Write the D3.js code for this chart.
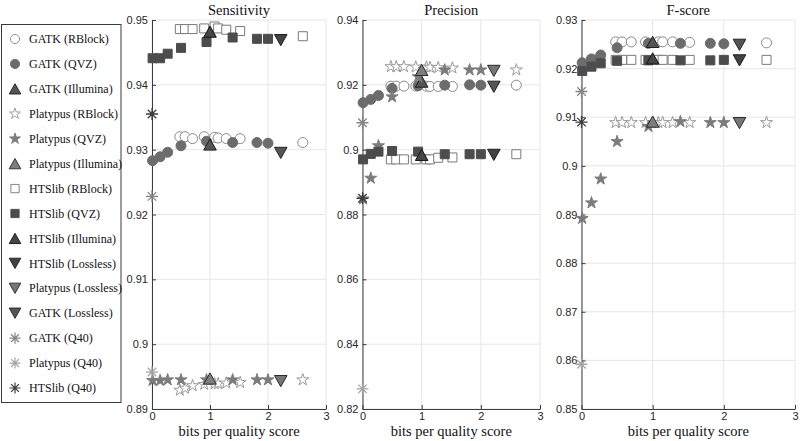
<!DOCTYPE html>
<html><head><meta charset="utf-8">
<script src="https://cdn.jsdelivr.net/npm/d3@7"></script>
<style>body{margin:0;background:#fff} svg{display:block}</style>
</head><body>
<svg id="c" width="800" height="441"></svg>
<script>
// ---------- DATA ----------
const qvzX      = [0.01, 0.14, 0.27, 0.5, 0.94, 1.39, 1.81, 2.0];
const rblockX   = [0.48, 0.57, 0.7, 0.9, 1.08, 1.14, 1.28, 1.52, 2.6];
const illuminaX = [1.0];
const losslessX = [2.22];
const q40X      = [0];

const xTicks = [0, 1, 2, 3];
const panelTitles = ["Sensitivity", "Precision", "F-score"];
const sensTicks = [0.89, 0.9, 0.91, 0.92, 0.93, 0.94, 0.95];
const precTicks = [0.82, 0.84, 0.86, 0.88, 0.9, 0.92, 0.94];
const fTicks    = [0.85, 0.86, 0.87, 0.88, 0.89, 0.9, 0.91, 0.92, 0.93];

// Sensitivity
const sensGatkRBlock   = [0.9320, 0.9320, 0.9317, 0.9320, 0.9319, 0.9318, 0.9317, 0.9317, 0.9311];
const sensGatkQVZ      = [0.9283, 0.9289, 0.9296, 0.9306, 0.9313, 0.9311, 0.9311, 0.9310];
const sensGatkIllumina = [0.9308];
const sensPlatRBlock   = [0.8929, 0.8932, 0.8936, 0.8938, 0.8939, 0.8939, 0.8940, 0.8941, 0.8945];
const sensPlatQVZ      = [0.8944, 0.8944, 0.8945, 0.8945, 0.8945, 0.8945, 0.8945, 0.8945];
const sensPlatIllumina = [0.8947];
const sensHtsRBlock    = [0.9486, 0.9486, 0.9486, 0.9487, 0.9490, 0.9487, 0.9485, 0.9483, 0.9475];
const sensHtsQVZ       = [0.9441, 0.9441, 0.9448, 0.9457, 0.9466, 0.9473, 0.9471, 0.9471];
const sensHtsIllumina  = [0.9482];
const sensHtsLossless  = [0.9469];
const sensPlatLossless = [0.8943];
const sensGatkLossless = [0.9295];
const sensGatkQ40      = [0.9228];
const sensPlatQ40      = [0.8957];
const sensHtsQ40       = [0.9355];

// Precision
const precGatkRBlock   = [0.9196, 0.9196, 0.9196, 0.9196, 0.9196, 0.9195, 0.9195, 0.9195, 0.9199];
const precGatkQVZ      = [0.9145, 0.9155, 0.9167, 0.9189, 0.9197, 0.9199, 0.9200, 0.9199];
const precGatkIllumina = [0.9210];
const precPlatRBlock   = [0.9256, 0.9256, 0.9256, 0.9255, 0.9255, 0.9254, 0.9253, 0.9252, 0.9246];
const precPlatQVZ      = [0.8848, 0.8912, 0.9012, 0.9163, 0.9225, 0.9246, 0.9246, 0.9246];
const precPlatIllumina = [0.9246];
const precHtsRBlock    = [0.8970, 0.8970, 0.8970, 0.8970, 0.8970, 0.8970, 0.8975, 0.8976, 0.8986];
const precHtsQVZ       = [0.8970, 0.8987, 0.8994, 0.8996, 0.8994, 0.8986, 0.8986, 0.8986];
const precHtsIllumina  = [0.8984];
const precHtsLossless  = [0.8984];
const precPlatLossless = [0.9243];
const precGatkLossless = [0.9194];
const precGatkQ40      = [0.9083];
const precPlatQ40      = [0.8262];
const precHtsQ40       = [0.8850];

// F-score
const fGatkRBlock   = [0.9255, 0.9255, 0.9255, 0.9255, 0.9255, 0.9255, 0.9255, 0.9254, 0.9253];
const fGatkQVZ      = [0.9212, 0.9220, 0.9228, 0.9243, 0.9252, 0.9252, 0.9252, 0.9251];
const fGatkIllumina = [0.9255];
const fPlatRBlock   = [0.9089, 0.9089, 0.9089, 0.9089, 0.9089, 0.9089, 0.9089, 0.9089, 0.9089];
const fPlatQVZ      = [0.8892, 0.8924, 0.8973, 0.9050, 0.9081, 0.9091, 0.9089, 0.9089];
const fPlatIllumina = [0.9091];
const fHtsRBlock    = [0.9218, 0.9218, 0.9218, 0.9218, 0.9218, 0.9218, 0.9218, 0.9218, 0.9218];
const fHtsQVZ       = [0.9195, 0.9204, 0.9211, 0.9216, 0.9217, 0.9217, 0.9217, 0.9218];
const fHtsIllumina  = [0.9221];
const fHtsLossless  = [0.9217];
const fPlatLossless = [0.9088];
const fGatkLossless = [0.9249];
const fGatkQ40      = [0.9153];
const fPlatQ40      = [0.8592];
const fHtsQ40       = [0.9090];

const seriesNames = ["GATK (RBlock)","GATK (QVZ)","GATK (Illumina)","Platypus (RBlock)","Platypus (QVZ)",
  "Platypus (Illumina)","HTSlib (RBlock)","HTSlib (QVZ)","HTSlib (Illumina)","HTSlib (Lossless)",
  "Platypus (Lossless)","GATK (Lossless)","GATK (Q40)","Platypus (Q40)","HTSlib (Q40)"];
const seriesX = [rblockX, qvzX, illuminaX, rblockX, qvzX, illuminaX, rblockX, qvzX, illuminaX,
  losslessX, losslessX, losslessX, q40X, q40X, q40X];
const sensY = [sensGatkRBlock, sensGatkQVZ, sensGatkIllumina, sensPlatRBlock, sensPlatQVZ, sensPlatIllumina,
  sensHtsRBlock, sensHtsQVZ, sensHtsIllumina, sensHtsLossless, sensPlatLossless, sensGatkLossless,
  sensGatkQ40, sensPlatQ40, sensHtsQ40];
const precY = [precGatkRBlock, precGatkQVZ, precGatkIllumina, precPlatRBlock, precPlatQVZ, precPlatIllumina,
  precHtsRBlock, precHtsQVZ, precHtsIllumina, precHtsLossless, precPlatLossless, precGatkLossless,
  precGatkQ40, precPlatQ40, precHtsQ40];
const fY = [fGatkRBlock, fGatkQVZ, fGatkIllumina, fPlatRBlock, fPlatQVZ, fPlatIllumina,
  fHtsRBlock, fHtsQVZ, fHtsIllumina, fHtsLossless, fPlatLossless, fGatkLossless,
  fGatkQ40, fPlatQ40, fHtsQ40];

// ---------- STYLES ----------
const styles = [
  {shape:"circle",  fill:"#fff",    stroke:"#8a8a8a"},
  {shape:"circle",  fill:"#6c6c6c", stroke:"#6c6c6c"},
  {shape:"triUp",   fill:"#555555", stroke:"#1e1e1e"},
  {shape:"star",    fill:"#fff",    stroke:"#9a9a9a"},
  {shape:"star",    fill:"#7c7c7c", stroke:"#7c7c7c"},
  {shape:"triUp",   fill:"#7e7e7e", stroke:"#2a2a2a"},
  {shape:"square",  fill:"#fff",    stroke:"#7a7a7a"},
  {shape:"square",  fill:"#4c4c4c", stroke:"#4c4c4c"},
  {shape:"triUp",   fill:"#454545", stroke:"#151515"},
  {shape:"triDown", fill:"#424242", stroke:"#1e1e1e"},
  {shape:"triDown", fill:"#767676", stroke:"#2a2a2a"},
  {shape:"triDown", fill:"#555555", stroke:"#222222"},
  {shape:"aster",   fill:"none",    stroke:"#858585"},
  {shape:"aster",   fill:"none",    stroke:"#a5a5a5"},
  {shape:"aster",   fill:"none",    stroke:"#3c3c3c"}
];

function markerPath(shape){
  switch(shape){
    case "circle": { const r=5; return `M${r},0A${r},${r} 0 1,1 ${-r},0A${r},${r} 0 1,1 ${r},0Z`; }
    case "square": { const s=4.5; return `M${-s},${-s}H${s}V${s}H${-s}Z`; }
    case "triUp":  { const w=6.3,h=5.6; return `M0,${-h}L${w},${h}L${-w},${h}Z`; }
    case "triDown":{ const w=6.3,h=5.6; return `M0,${h}L${w},${-h}L${-w},${-h}Z`; }
    case "star": {
      const R=6.3, r=R*0.382; let p="";
      for(let i=0;i<10;i++){ const a=-Math.PI/2+i*Math.PI/5; const rr=i%2?r:R;
        p+=(i?"L":"M")+(rr*Math.cos(a)).toFixed(2)+","+(rr*Math.sin(a)).toFixed(2);}
      return p+"Z";
    }
    case "aster": {
      const r=6, d=r*0.7071;
      return `M${-r},0H${r}M0,${-r}V${r}M${-d},${-d}L${d},${d}M${-d},${d}L${d},${-d}`;
    }
  }
}

// ---------- LAYOUT ----------
const svg = d3.select("#c");
const yTop = 20, yBottom = 409;
const panels = [
  {title:panelTitles[0], x0:152,   x1:326, domain:[0.89,0.95], ticks:sensTicks, ys:sensY},
  {title:panelTitles[1], x0:362.5, x1:540, domain:[0.82,0.94], ticks:precTicks, ys:precY},
  {title:panelTitles[2], x0:581.5, x1:795, domain:[0.85,0.93], ticks:fTicks,    ys:fY}
];
const fmt = v => String(+v.toFixed(2));
const serif = "'Liberation Serif','Times New Roman',serif";
const sans = "'Liberation Sans',Arial,Helvetica,sans-serif";

panels.forEach(p => {
  const x = d3.scaleLinear().domain([0,3]).range([p.x0, p.x1]);
  const y = d3.scaleLinear().domain(p.domain).range([yBottom, yTop]);
  const g = svg.append("g");
  // grid
  g.append("g").selectAll("line").data(p.ticks).join("line")
    .attr("x1", p.x0).attr("x2", p.x1).attr("y1", d=>y(d)).attr("y2", d=>y(d))
    .attr("stroke", "#e6e6e6").attr("stroke-width", 1);
  g.append("g").selectAll("line").data(xTicks).join("line")
    .attr("x1", d=>x(d)).attr("x2", d=>x(d)).attr("y1", yTop).attr("y2", yBottom)
    .attr("stroke", "#e6e6e6").attr("stroke-width", 1);
  // axes
  const ax = g.append("g").attr("transform", `translate(0,${yBottom})`)
    .call(d3.axisBottom(x).tickValues(xTicks).tickFormat(d3.format("d")).tickSizeInner(-4).tickSizeOuter(0).tickPadding(3));
  const ay = g.append("g").attr("transform", `translate(${p.x0},0)`)
    .call(d3.axisLeft(y).tickValues(p.ticks).tickFormat(fmt).tickSizeInner(-4).tickSizeOuter(0).tickPadding(4));
  [ax, ay].forEach(a => {
    a.select(".domain").attr("stroke", "#3a3a3a").attr("stroke-width", 1);
    a.selectAll(".tick line").attr("stroke", "#3a3a3a");
    a.selectAll("text").attr("font-family", sans).attr("font-size", 11).attr("fill", "#262626");
  });
  // title & x label
  g.append("text").attr("x", (p.x0+p.x1)/2).attr("y", 15).attr("text-anchor","middle")
    .attr("font-family", serif).attr("font-size", 14.5).attr("fill","#111").text(p.title);
  g.append("text").attr("x", (p.x0+p.x1)/2).attr("y", 436).attr("text-anchor","middle")
    .attr("font-family", serif).attr("font-size", 14.5).attr("fill","#111").text("bits per quality score");
  // markers
  p.ys.forEach((vals, si) => {
    const st = styles[si];
    const pts = vals.map((v,i)=>[seriesX[si][i], v]);
    g.append("g").selectAll("path").data(pts).join("path")
      .attr("d", markerPath(st.shape))
      .attr("transform", d => `translate(${x(d[0])},${y(d[1])})`)
      .attr("fill", st.fill).attr("stroke", st.stroke)
      .attr("stroke-width", st.shape==="aster" ? 1.3 : 1);
  });
});

// ---------- LEGEND ----------
const leg = svg.append("g");
leg.append("rect").attr("x", 1.5).attr("y", 24.5).attr("width", 119.5).attr("height", 378)
  .attr("fill", "#fff").attr("stroke", "#3a3a3a").attr("stroke-width", 1);
const ly = d3.scaleLinear().domain([0, seriesNames.length-1]).range([39, 388]);
seriesNames.forEach((name, i) => {
  const st = styles[i];
  leg.append("path").attr("d", markerPath(st.shape))
    .attr("transform", `translate(15,${ly(i)}) scale(0.92)`)
    .attr("fill", st.fill).attr("stroke", st.stroke).attr("stroke-width", st.shape==="aster"?1.3:1);
  leg.append("text").attr("x", 29).attr("y", ly(i)).attr("dy","0.35em")
    .attr("font-family", serif).attr("font-size", 12).attr("fill", "#111").text(name);
});
</script>
</body></html>
